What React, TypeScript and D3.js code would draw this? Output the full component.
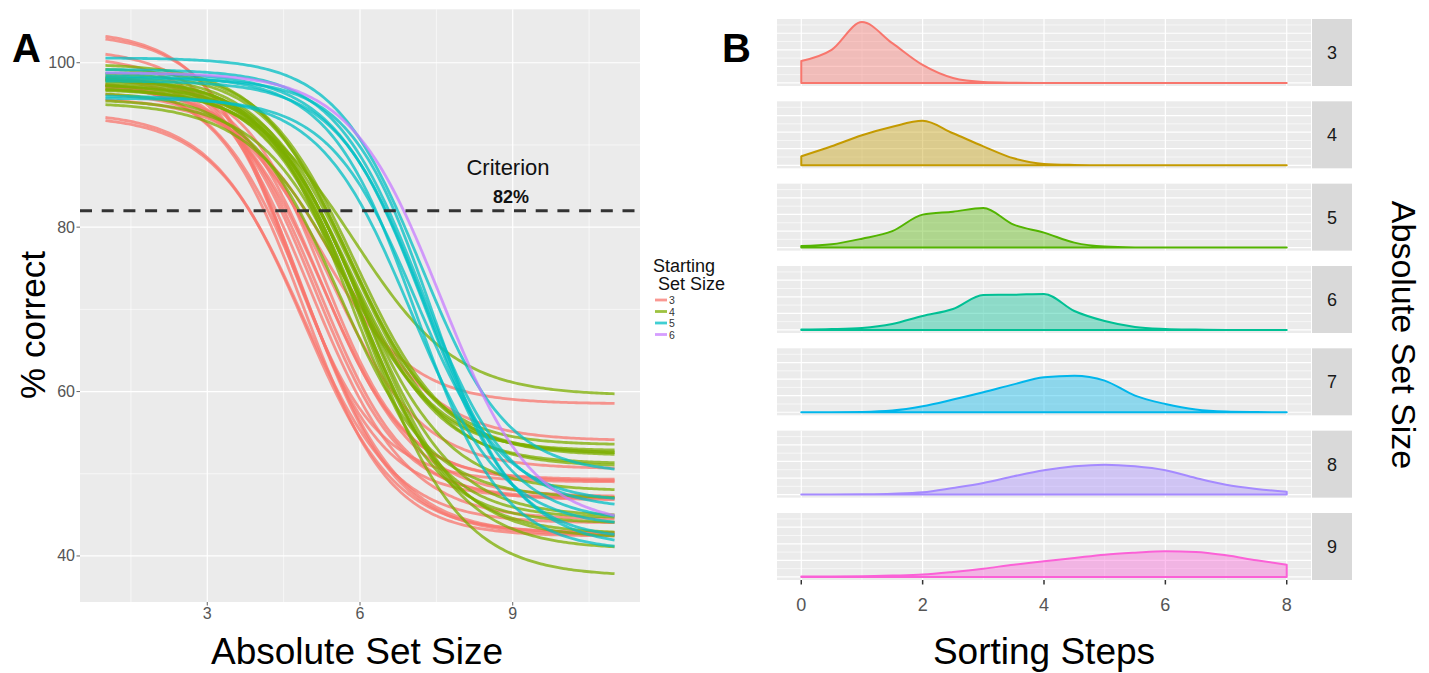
import React from "react";
import * as d3 from "d3";

const W = 1429;
const H = 673;
const FONT = "'Liberation Sans', Arial, Helvetica, sans-serif";

// ---- panel A: fitted psychometric curves, one row per participant
// [upper asymptote, lower asymptote, midpoint, width]
const START_SIZES = ["3", "4", "5", "6"];
const START_COLORS = ["#F8766D", "#7CAE00", "#00BFC4", "#C77CFF"];

const CURVES_3 = [
  [104.0, 49.0, 4.6, 0.85],
  [103.6, 47.0, 4.7, 0.85],
  [101.8, 42.5, 4.9, 0.9],
  [101.0, 44.4, 5.0, 0.95],
  [98.6, 49.1, 5.2, 0.85],
  [98.3, 47.0, 5.1, 0.85],
  [98.0, 42.7, 5.0, 0.9],
  [97.8, 42.4, 4.9, 0.85],
  [97.5, 47.2, 5.3, 0.9],
  [97.2, 50.6, 5.4, 0.9],
  [96.5, 58.5, 5.2, 0.9],
  [95.8, 54.0, 5.6, 0.95],
  [94.0, 42.8, 4.9, 0.9],
  [93.6, 44.0, 4.9, 0.9],
  [98.2, 49.3, 5.3, 0.8],
  [97.6, 46.8, 5.2, 0.85],
];
const CURVES_4 = [
  [99.9, 52.5, 5.8, 0.9],
  [99.4, 52.2, 5.9, 0.9],
  [98.8, 53.5, 5.8, 0.85],
  [98.5, 52.8, 5.7, 0.85],
  [98.2, 51.2, 5.8, 0.9],
  [98.0, 50.9, 5.9, 0.9],
  [97.8, 47.9, 5.9, 0.9],
  [97.5, 44.8, 6.0, 0.9],
  [97.3, 44.6, 5.9, 0.85],
  [97.0, 42.7, 6.0, 0.9],
  [96.8, 42.2, 6.1, 0.9],
  [97.0, 59.5, 5.9, 1.0],
  [97.5, 37.5, 6.1, 0.95],
  [95.6, 40.8, 6.1, 0.95],
  [95.2, 52.4, 5.7, 0.95],
  [96.5, 47.0, 5.6, 0.9],
  [98.2, 44.0, 5.8, 0.85],
];
const CURVES_5 = [
  [100.6, 50.0, 7.2, 0.85],
  [99.2, 45.7, 7.2, 0.85],
  [98.8, 41.0, 7.3, 0.9],
  [98.4, 40.6, 7.1, 0.85],
  [96.0, 43.5, 7.0, 0.9],
  [95.7, 46.5, 7.1, 0.85],
  [97.8, 44.2, 7.25, 0.85],
  [98.1, 42.0, 7.4, 0.8],
];
const CURVES_6 = [[98.8, 43.7, 7.6, 0.9]];
const CURVE_GROUPS = [CURVES_3, CURVES_4, CURVES_5, CURVES_6];

const CRITERION = 82;
const X_TICKS_A = [3, 6, 9];
const X_MINOR_A = [1.5, 4.5, 7.5, 10.5];
const Y_TICKS_A = [40, 60, 80, 100];
const Y_MINOR_A = [50, 70, 90];

// ---- panel B: density of sorting steps per absolute set size
const STEPS = [0, 0.5, 1, 1.5, 2, 2.5, 3, 3.5, 4, 4.5, 5, 5.5, 6, 6.5, 7, 7.5, 8];
const FACETS = ["3", "4", "5", "6", "7", "8", "9"];
const FACET_COLORS = ["#F8766D", "#C49A00", "#53B400", "#00C094", "#00B6EB", "#A58AFF", "#FB61D7"];
const DENS_3 = [0.265, 0.4, 0.735, 0.48, 0.217, 0.06, 0.012, 0.003, 0, 0, 0, 0, 0, 0, 0, 0, 0];
const DENS_4 = [0.108, 0.229, 0.362, 0.465, 0.536, 0.386, 0.229, 0.084, 0.016, 0.004, 0, 0, 0, 0, 0, 0, 0];
const DENS_5 = [0.019, 0.04, 0.108, 0.199, 0.398, 0.434, 0.477, 0.277, 0.181, 0.06, 0.012, 0.002, 0, 0, 0, 0, 0];
const DENS_6 = [0.004, 0.01, 0.024, 0.072, 0.169, 0.253, 0.422, 0.425, 0.434, 0.229, 0.108, 0.036, 0.012, 0.004, 0, 0, 0];
const DENS_7 = [0, 0.001, 0.004, 0.02, 0.072, 0.153, 0.241, 0.337, 0.422, 0.442, 0.382, 0.201, 0.1, 0.033, 0.008, 0.002, 0];
const DENS_8 = [0, 0.001, 0.004, 0.011, 0.028, 0.081, 0.141, 0.221, 0.293, 0.341, 0.361, 0.341, 0.293, 0.201, 0.12, 0.069, 0.033];
const DENS_9 = [0.004, 0.006, 0.008, 0.016, 0.028, 0.06, 0.1, 0.148, 0.189, 0.229, 0.269, 0.293, 0.31, 0.301, 0.261, 0.201, 0.148];
const DENSITIES = [DENS_3, DENS_4, DENS_5, DENS_6, DENS_7, DENS_8, DENS_9];
const X_TICKS_B = [0, 2, 4, 6, 8];
const X_MINOR_B = [1, 3, 5, 7];
const Y_GRID_B = [0, 0.1, 0.2, 0.3, 0.4, 0.5, 0.6, 0.7];

const logistic = (p: number[], x: number) => p[1] + (p[0] - p[1]) / (1 + Math.exp((x - p[2]) / p[3]));

function PanelA() {
  const x = d3.scaleLinear().domain([0.5, 11.5]).range([80, 640]);
  const y = d3.scaleLinear().domain([34.4, 106.5]).range([602, 9.3]);
  const grid = d3.range(1, 11.001, 0.05);
  const line = d3
    .line<number[]>()
    .x((d) => x(d[0]))
    .y((d) => y(d[1]));
  const [x0, x1] = x.range();
  const [y0, y1] = y.range();

  return (
    <g>
      <rect x={x0} y={y1} width={x1 - x0} height={y0 - y1} fill="#EBEBEB" />
      {X_MINOR_A.map((t) => (
        <line key={"xm" + t} x1={x(t)} x2={x(t)} y1={y1} y2={y0} stroke="#fff" strokeWidth={0.6} />
      ))}
      {Y_MINOR_A.map((t) => (
        <line key={"ym" + t} x1={x0} x2={x1} y1={y(t)} y2={y(t)} stroke="#fff" strokeWidth={0.6} />
      ))}
      {X_TICKS_A.map((t) => (
        <line key={"xM" + t} x1={x(t)} x2={x(t)} y1={y1} y2={y0} stroke="#fff" strokeWidth={1.2} />
      ))}
      {Y_TICKS_A.map((t) => (
        <line key={"yM" + t} x1={x0} x2={x1} y1={y(t)} y2={y(t)} stroke="#fff" strokeWidth={1.2} />
      ))}

      {CURVE_GROUPS.map((group, gi) =>
        group.map((p, i) => (
          <path
            key={gi + "-" + i}
            d={line(grid.map((v) => [v, logistic(p, v)])) || ""}
            fill="none"
            stroke={START_COLORS[gi]}
            strokeOpacity={0.75}
            strokeWidth={2.8}
          />
        ))
      )}

      <line
        x1={x0}
        x2={x1}
        y1={y(CRITERION)}
        y2={y(CRITERION)}
        stroke="#333"
        strokeWidth={3}
        strokeDasharray="12 9.7"
      />
      <text x={508} y={175} fontSize={22} textAnchor="middle" fill="#111">
        Criterion
      </text>
      <text x={511} y={203} fontSize={18} fontWeight="bold" textAnchor="middle" fill="#111">
        82%
      </text>

      {Y_TICKS_A.map((t) => (
        <g key={"yt" + t}>
          <line x1={x0 - 3.5} x2={x0} y1={y(t)} y2={y(t)} stroke="#666" strokeWidth={1} />
          <text x={x0 - 5} y={y(t) + 5.5} fontSize={16} textAnchor="end" fill="#555">
            {t}
          </text>
        </g>
      ))}
      {X_TICKS_A.map((t) => (
        <g key={"xt" + t}>
          <line x1={x(t)} x2={x(t)} y1={y0} y2={y0 + 3.5} stroke="#666" strokeWidth={1} />
          <text x={x(t)} y={619} fontSize={16} textAnchor="middle" fill="#555">
            {t}
          </text>
        </g>
      ))}

      <text x={357} y={664} fontSize={37} textAnchor="middle" fill="#000">
        Absolute Set Size
      </text>
      <text transform="translate(45,325) rotate(-90)" fontSize={35} textAnchor="middle" fill="#000">
        % correct
      </text>
      <text x={12} y={62} fontSize={40} fontWeight="bold" fill="#000">
        A
      </text>

      {/* legend */}
      <text x={653} y={272} fontSize={18} fill="#111">
        Starting
      </text>
      <text x={658} y={290} fontSize={18} fill="#111">
        Set Size
      </text>
      {START_SIZES.map((s, i) => {
        const ly = 300 + i * 11.5;
        return (
          <g key={"lg" + s}>
            <line x1={655} x2={667} y1={ly} y2={ly} stroke={START_COLORS[i]} strokeWidth={2.8} strokeOpacity={0.75} />
            <text x={669} y={ly + 4} fontSize={10.5} fill="#333">
              {s}
            </text>
          </g>
        );
      })}
    </g>
  );
}

function PanelB() {
  const x = d3.scaleLinear().domain([-0.4, 8.4]).range([777, 1311]);
  const [x0, x1] = x.range();
  const pitch = 82.33;
  const panelH = 67;
  const top0 = 19;

  return (
    <g>
      {FACETS.map((f, i) => {
        const top = top0 + i * pitch;
        const bottom = top + panelH;
        const y = d3.scaleLinear().domain([-0.03675, 0.77175]).range([bottom, top]);
        const area = d3
          .area<number>()
          .x((_, j) => x(STEPS[j]))
          .y0(y(0))
          .y1((d) => y(d))
          .curve(d3.curveMonotoneX);
        return (
          <g key={f}>
            <rect x={x0} y={top} width={x1 - x0} height={panelH} fill="#EBEBEB" />
            {Y_GRID_B.map((t, k) => (
              <line
                key={"yg" + t}
                x1={x0}
                x2={x1}
                y1={y(t)}
                y2={y(t)}
                stroke="#fff"
                strokeWidth={k % 2 === 0 ? 1.2 : 0.6}
              />
            ))}
            {X_MINOR_B.map((t) => (
              <line key={"xm" + t} x1={x(t)} x2={x(t)} y1={top} y2={bottom} stroke="#fff" strokeWidth={0.6} />
            ))}
            {X_TICKS_B.map((t) => (
              <line key={"xM" + t} x1={x(t)} x2={x(t)} y1={top} y2={bottom} stroke="#fff" strokeWidth={1.2} />
            ))}
            <path
              d={area(DENSITIES[i]) || ""}
              fill={FACET_COLORS[i]}
              fillOpacity={0.4}
              stroke={FACET_COLORS[i]}
              strokeWidth={2}
              strokeLinejoin="round"
            />
            <rect x={1312} y={top} width={40} height={panelH} fill="#D9D9D9" />
            <text x={1332} y={top + panelH / 2 + 6.5} fontSize={18} textAnchor="middle" fill="#1A1A1A">
              {f}
            </text>
          </g>
        );
      })}
      {X_TICKS_B.map((t) => {
        const yb = top0 + 6 * pitch + panelH;
        return (
          <g key={"xt" + t}>
            <line x1={x(t)} x2={x(t)} y1={yb} y2={yb + 4.5} stroke="#333" strokeWidth={1.5} />
            <text x={x(t)} y={yb + 31} fontSize={18} textAnchor="middle" fill="#555">
              {t}
            </text>
          </g>
        );
      })}
      <text x={1044} y={664} fontSize={37} textAnchor="middle" fill="#000">
        Sorting Steps
      </text>
      <text transform="translate(1392,335) rotate(90)" fontSize={34} textAnchor="middle" fill="#000">
        Absolute Set Size
      </text>
      <text x={722} y={62} fontSize={40} fontWeight="bold" fill="#000">
        B
      </text>
    </g>
  );
}

export default function App() {
  return (
    <svg
      width={W}
      height={H}
      viewBox={`0 0 ${W} ${H}`}
      style={{ position: "absolute", left: 0, top: 0, background: "#fff" }}
      fontFamily={FONT}
    >
      <PanelA />
      <PanelB />
    </svg>
  );
}
